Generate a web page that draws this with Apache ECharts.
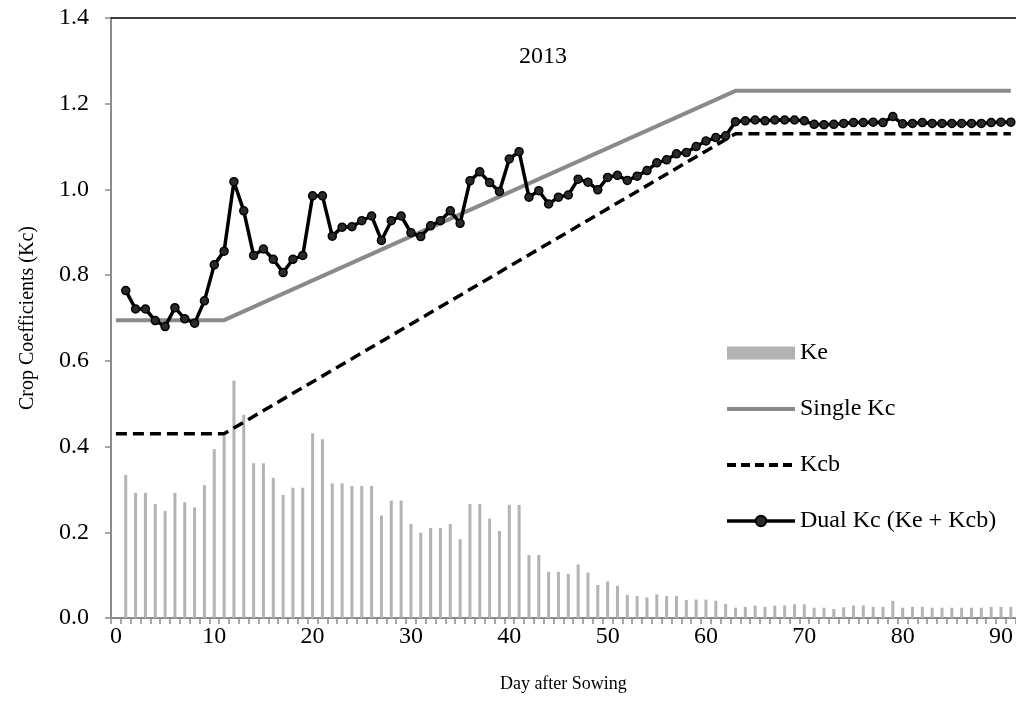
<!DOCTYPE html>
<html>
<head>
<meta charset="utf-8">
<script src="https://cdn.jsdelivr.net/npm/echarts@6/dist/echarts.min.js"></script>
<style>
html,body{margin:0;padding:0;background:#fff;}
#chart{width:1016px;height:725px;}
</style>
</head>
<body>
<div id="chart"></div>
<script>
// Days after sowing (categories 0..91)
const days = [];
for (let d = 0; d <= 91; d++) days.push(String(d));

// Ke (soil evaporation coefficient), days 1..91
const keValues = [
  0.334, 0.292, 0.292, 0.266, 0.250, 0.292, 0.270, 0.258, 0.310, 0.394,
  0.425, 0.554, 0.474, 0.361, 0.361, 0.327, 0.287, 0.304, 0.304, 0.431,
  0.417, 0.314, 0.314, 0.308, 0.308, 0.308, 0.239, 0.274, 0.274, 0.219,
  0.199, 0.210, 0.210, 0.219, 0.184, 0.266, 0.266, 0.232, 0.203, 0.264,
  0.264, 0.147, 0.147, 0.108, 0.108, 0.103, 0.125, 0.106, 0.077, 0.085,
  0.075, 0.054, 0.051, 0.048, 0.055, 0.051, 0.051, 0.042, 0.043, 0.043,
  0.040, 0.033, 0.024, 0.026, 0.029, 0.026, 0.029, 0.029, 0.032, 0.032,
  0.024, 0.024, 0.021, 0.025, 0.029, 0.029, 0.026, 0.026, 0.040, 0.024,
  0.026, 0.026, 0.024, 0.024, 0.024, 0.024, 0.024, 0.024, 0.026, 0.026,
  0.026
];

// Dual Kc (Ke + Kcb), days 1..91
const dualKcValues = [
  0.764, 0.721, 0.721, 0.694, 0.680, 0.724, 0.698, 0.688, 0.740, 0.824,
  0.856, 1.018, 0.950, 0.846, 0.861, 0.837, 0.806, 0.837, 0.846, 0.985,
  0.985, 0.891, 0.912, 0.913, 0.927, 0.938, 0.881, 0.927, 0.938, 0.899,
  0.890, 0.915, 0.927, 0.950, 0.921, 1.020, 1.041, 1.016, 0.995, 1.071,
  1.088, 0.982, 0.997, 0.966, 0.982, 0.987, 1.024, 1.017, 0.999, 1.028,
  1.033, 1.021, 1.031, 1.044, 1.062, 1.069, 1.083, 1.086, 1.100, 1.113,
  1.121, 1.125, 1.158, 1.160, 1.162, 1.160, 1.162, 1.162, 1.162, 1.160,
  1.152, 1.151, 1.152, 1.154, 1.156, 1.156, 1.157, 1.156, 1.170, 1.153,
  1.154, 1.156, 1.154, 1.154, 1.154, 1.154, 1.154, 1.154, 1.156, 1.157,
  1.157
];

// Single Kc breakpoints [day, value]
const singleKcPoints = [["0", 0.695], ["11", 0.695], ["63", 1.23], ["91", 1.23]];
// Kcb breakpoints [day, value]
const kcbPoints = [["0", 0.43], ["11", 0.43], ["63", 1.13], ["91", 1.13]];

const yTicks = { min: 0, max: 1.4, interval: 0.2 };

const FONT = "'Liberation Serif', 'Times New Roman', serif";

const keData = ['-'].concat(keValues);
const dualData = ['-'].concat(dualKcValues);

const chart = echarts.init(document.getElementById('chart'), null, { renderer: 'canvas' });
chart.setOption({
  animation: false,
  backgroundColor: '#ffffff',
  textStyle: { fontFamily: FONT },
  grid: { left: 111, right: 0, top: 18, bottom: 107, containLabel: false },
  graphic: [{
    type: 'text', left: 519, top: 45,
    style: { text: '2013', font: "24px " + FONT, fill: '#000' }
  }],
  legend: {
    orient: 'vertical',
    left: 720, top: 336,
    itemWidth: 68, itemHeight: 13,
    itemGap: 32,
    textStyle: { fontFamily: FONT, fontSize: 24, color: '#000', lineHeight: 24 },
    data: [
      { name: 'Ke', icon: 'rect' },
      { name: 'Single Kc', itemStyle: { opacity: 0 }, lineStyle: { width: 4, color: '#8a8a8a' } },
      { name: 'Kcb', itemStyle: { opacity: 0 }, lineStyle: { width: 4, color: '#000', type: [9, 5] } },
      { name: 'Dual Kc (Ke + Kcb)', lineStyle: { width: 3.5, color: '#000' } }
    ]
  },
  xAxis: [{
    type: 'category',
    data: days,
    boundaryGap: true,
    name: 'Day after Sowing',
    nameLocation: 'middle',
    nameGap: 57,
    nameTextStyle: { fontFamily: FONT, fontSize: 18, color: '#000' },
    axisLine: { lineStyle: { color: '#8c8c8c', width: 2 } },
    axisTick: { show: true, interval: 0, length: 6, inside: false, lineStyle: { color: '#8c8c8c', width: 1.5 } },
    axisLabel: { interval: 9, margin: 7, fontFamily: FONT, fontSize: 24, color: '#000' },
    splitLine: { show: false }
  }, {
    type: 'category',
    data: days,
    position: 'top',
    axisLine: { show: true, lineStyle: { color: '#000', width: 1.5 } },
    axisTick: { show: false },
    axisLabel: { show: false },
    splitLine: { show: false }
  }],
  yAxis: {
    type: 'value',
    min: yTicks.min, max: yTicks.max, interval: yTicks.interval,
    name: 'Crop Coefficients (Kc)',
    nameLocation: 'middle',
    nameGap: 73,
    nameTextStyle: { fontFamily: FONT, fontSize: 20, color: '#000' },
    axisLine: { show: true, lineStyle: { color: '#8c8c8c', width: 2 } },
    axisTick: { show: true, length: 6, lineStyle: { color: '#8c8c8c', width: 1.5 } },
    axisLabel: { margin: 22, fontFamily: FONT, fontSize: 24, color: '#000', formatter: v => v.toFixed(1) },
    splitLine: { show: false }
  },
  series: [
    {
      name: 'Ke', type: 'bar', data: keData, barWidth: 3,
      itemStyle: { color: '#b3b3b3' }, z: 1
    },
    {
      name: 'Single Kc', type: 'line', data: singleKcPoints, symbol: 'none',
      lineStyle: { color: '#8a8a8a', width: 4 }, itemStyle: { color: '#8a8a8a' }, z: 2
    },
    {
      name: 'Kcb', type: 'line', data: kcbPoints, symbol: 'none',
      lineStyle: { color: '#000', width: 3.5, type: [11, 6] }, itemStyle: { color: '#000' }, z: 3
    },
    {
      name: 'Dual Kc (Ke + Kcb)', type: 'line', data: dualData,
      symbol: 'circle', symbolSize: 8, showAllSymbol: true,
      lineStyle: { color: '#000', width: 3.5 },
      itemStyle: { color: '#2a2a2a', borderColor: '#000', borderWidth: 1.5 }, z: 4
    }
  ]
});
</script>
</body>
</html>
